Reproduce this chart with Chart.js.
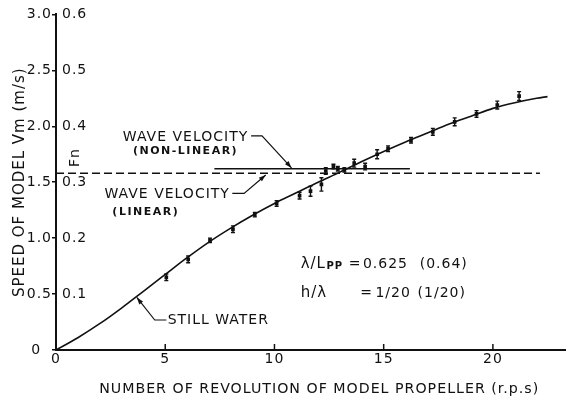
<!DOCTYPE html>
<html>
<head>
<meta charset="utf-8">
<script src="https://cdn.jsdelivr.net/npm/chart.js@4/dist/chart.umd.min.js"></script>
<style>
  html, body { margin: 0; padding: 0; background: #fff; }
  #wrap { width: 569px; height: 402px; }
</style>
</head>
<body>
<div id="wrap"><canvas id="speedChart"></canvas></div>
<script>
// Still water curve: model speed against propeller revolutions
const stillRps = [0, 1, 2, 3, 4, 5, 6, 7, 8, 9, 10, 11, 12, 13, 14, 15, 16, 17, 18, 19, 20, 21, 22, 22.5];
const stillVm = [0, 0.11, 0.235, 0.375, 0.525, 0.675, 0.825, 0.965, 1.09, 1.205, 1.31, 1.405, 1.5, 1.59, 1.685, 1.775, 1.86, 1.94, 2.02, 2.09, 2.16, 2.21, 2.25, 2.265];

// Measured speeds in waves and half height of each error bar
const measRps = [5.05, 6.05, 7.05, 8.1, 9.1, 10.1, 11.15, 11.65, 12.15, 12.35, 12.7, 12.9, 13.2, 13.65, 14.15, 14.7, 15.2, 16.25, 17.25, 18.25, 19.25, 20.2, 21.2];
const measVm = [0.65, 0.81, 0.98, 1.08, 1.21, 1.31, 1.38, 1.42, 1.48, 1.6, 1.64, 1.62, 1.61, 1.67, 1.64, 1.75, 1.8, 1.875, 1.95, 2.04, 2.11, 2.19, 2.27];
const measErr = [0.03, 0.03, 0.02, 0.03, 0.02, 0.025, 0.03, 0.045, 0.06, 0.03, 0.02, 0.02, 0.02, 0.035, 0.03, 0.04, 0.025, 0.025, 0.03, 0.035, 0.03, 0.035, 0.04];

// Wave velocity levels
const waveLinearRps = [0, 22.15];
const waveLinearVm = [1.58, 1.58];
const waveNonLinearRps = [7.25, 16.2];
const waveNonLinearVm = [1.62, 1.62];

// Axis ticks
const rpsTicks = [0, 5, 10, 15, 20];
const vmTicks = [0, 0.5, 1.0, 1.5, 2.0, 2.5, 3.0];
const fnTicks = [0.1, 0.2, 0.3, 0.4, 0.5, 0.6];

const INK = "#111";
const FONT = '"DejaVu Sans", sans-serif';

const toPoints = (xs, ys) => xs.map((x, i) => ({ x: x, y: ys[i] }));

// polyline ending in a filled arrowhead
function leader(ctx, pts) {
  ctx.beginPath();
  ctx.moveTo(pts[0][0], pts[0][1]);
  for (let i = 1; i < pts.length; i++) ctx.lineTo(pts[i][0], pts[i][1]);
  ctx.stroke();
  const [x1, y1] = pts[pts.length - 2];
  const [x2, y2] = pts[pts.length - 1];
  const a = Math.atan2(y2 - y1, x2 - x1);
  const len = 7, half = 2.4;
  const bx = x2 - len * Math.cos(a), by = y2 - len * Math.sin(a);
  ctx.beginPath();
  ctx.moveTo(x2, y2);
  ctx.lineTo(bx + half * Math.sin(a), by - half * Math.cos(a));
  ctx.lineTo(bx - half * Math.sin(a), by + half * Math.cos(a));
  ctx.closePath();
  ctx.fill();
}

const letterSpacing = {
  id: "letterSpacing",
  beforeDraw(chart) {
    chart.ctx.letterSpacing = "1px";
  },
};

// error bars for the measured points
const errorBars = {
  id: "errorBars",
  afterDatasetsDraw(chart) {
    const { ctx, scales } = chart;
    ctx.save();
    ctx.strokeStyle = INK;
    ctx.lineWidth = 1.4;
    measRps.forEach((r, i) => {
      const x = scales.x.getPixelForValue(r);
      const yt = scales.y.getPixelForValue(measVm[i] + measErr[i]);
      const yb = scales.y.getPixelForValue(measVm[i] - measErr[i]);
      ctx.beginPath();
      ctx.moveTo(x, yt); ctx.lineTo(x, yb);
      ctx.moveTo(x - 2, yt); ctx.lineTo(x + 2, yt);
      ctx.moveTo(x - 2, yb); ctx.lineTo(x + 2, yb);
      ctx.stroke();
    });
    ctx.restore();
  },
};

// inward tick marks on the revolution axis, axis title, labels and leaders
const annotations = {
  id: "annotations",
  afterDraw(chart) {
    const { ctx, scales, chartArea } = chart;
    const px = (v) => scales.x.getPixelForValue(v);
    const py = (v) => scales.y.getPixelForValue(v);
    ctx.save();
    ctx.strokeStyle = INK;
    ctx.fillStyle = INK;
    ctx.lineWidth = 1.5;

    rpsTicks.forEach((t) => {
      if (t === 0) return;
      ctx.beginPath();
      ctx.moveTo(px(t), chartArea.bottom);
      ctx.lineTo(px(t), chartArea.bottom - 6);
      ctx.stroke();
    });

    ctx.letterSpacing = "1px";
    ctx.textBaseline = "middle";
    ctx.textAlign = "center";
    ctx.font = "14.2px " + FONT;
    ctx.fillText("NUMBER OF REVOLUTION OF MODEL PROPELLER (r.p.s)", px(12.05), chartArea.bottom + 39);

    // Fn label beside the Froude number ticks
    ctx.save();
    ctx.font = "14px " + FONT;
    ctx.translate(chartArea.left + 19, py(1.72));
    ctx.rotate(-Math.PI / 2);
    ctx.fillText("Fn", 0, 0);
    ctx.restore();

    ctx.lineWidth = 1.2;
    ctx.font = "14px " + FONT;
    ctx.fillText("WAVE VELOCITY", px(5.93), py(1.9));
    ctx.fillText("WAVE VELOCITY", px(5.09), py(1.393));
    ctx.font = "bold 11px " + FONT;
    ctx.letterSpacing = "1.5px";
    ctx.fillText("(NON-LINEAR)", px(5.93), py(1.777));
    ctx.fillText("(LINEAR)", px(4.11), py(1.232));
    ctx.letterSpacing = "1px";

    leader(ctx, [[px(8.93), py(1.915)], [px(9.43), py(1.915)], [px(10.78), py(1.628)]]);
    leader(ctx, [[px(8.07), py(1.40)], [px(8.61), py(1.40)], [px(9.6), py(1.565)]]);

    ctx.textAlign = "left";
    ctx.font = "14px " + FONT;
    ctx.fillText("STILL WATER", px(5.11), py(0.268));
    leader(ctx, [[px(5.05), py(0.268)], [px(4.52), py(0.268)], [px(3.7), py(0.47)]]);

    // wave condition
    ctx.font = "15px " + FONT;
    ctx.fillText("\u03bb/L", px(11.2), py(0.768));
    ctx.fillText("h/\u03bb", px(11.2), py(0.509));
    ctx.font = "bold 10px " + FONT;
    ctx.fillText("PP", px(12.38), py(0.745));
    ctx.font = "14px " + FONT;
    ctx.fillText("=", px(13.4), py(0.768));
    ctx.fillText("0.625", px(14.05), py(0.768));
    ctx.fillText("(0.64)", px(16.65), py(0.768));
    ctx.fillText("=", px(13.93), py(0.509));
    ctx.fillText("1/20", px(14.62), py(0.509));
    ctx.fillText("(1/20)", px(16.55), py(0.509));
    ctx.restore();
  },
};

new Chart(document.getElementById("speedChart"), {
  type: "scatter",
  data: {
    datasets: [
      {
        label: "Still water",
        data: toPoints(stillRps, stillVm),
        yAxisID: "y",
        showLine: true,
        borderColor: INK,
        borderWidth: 1.6,
        pointRadius: 0,
        cubicInterpolationMode: "monotone",
      },
      {
        label: "Measured",
        data: toPoints(measRps, measVm),
        yAxisID: "y",
        showLine: false,
        pointStyle: "rect",
        pointRadius: 2.6,
        backgroundColor: INK,
        borderColor: INK,
        borderWidth: 0,
      },
      {
        label: "Wave velocity (linear)",
        data: toPoints(waveLinearRps, waveLinearVm),
        yAxisID: "y",
        showLine: true,
        borderColor: INK,
        borderWidth: 1.5,
        borderDash: [8, 4],
        pointRadius: 0,
      },
      {
        label: "Wave velocity (non-linear)",
        data: toPoints(waveNonLinearRps, waveNonLinearVm),
        yAxisID: "y",
        showLine: true,
        borderColor: INK,
        borderWidth: 1.5,
        pointRadius: 0,
      },
    ],
  },
  options: {
    responsive: true,
    maintainAspectRatio: false,
    animation: false,
    layout: { padding: { top: 14, right: 0, left: 0, bottom: 0 } },
    plugins: {
      legend: { display: false },
      tooltip: { enabled: false },
    },
    scales: {
      x: {
        type: "linear",
        min: 0,
        max: 23.3,
        afterBuildTicks: (s) => { s.ticks = rpsTicks.map((v) => ({ value: v })); },
        afterFit: (s) => { s.height = 52; },
        border: { display: true, color: INK, width: 2 },
        grid: { display: false, drawTicks: false },
        ticks: {
          color: INK,
          font: { family: FONT, size: 14 },
          padding: 1,
          maxRotation: 0,
        },
      },
      yFn: {
        type: "linear",
        position: "left",
        weight: 0,
        min: 0,
        max: 0.6,
        afterBuildTicks: (s) => { s.ticks = fnTicks.map((v) => ({ value: v })); },
        afterFit: (s) => { s.width = 0; },
        border: { display: false },
        grid: { display: false, drawTicks: false },
        ticks: {
          mirror: true,
          padding: 6,
          color: INK,
          font: { family: FONT, size: 14 },
          callback: (v) => v.toFixed(1),
        },
      },
      y: {
        type: "linear",
        position: "left",
        weight: 1,
        min: 0,
        max: 3,
        afterBuildTicks: (s) => { s.ticks = vmTicks.map((v) => ({ value: v })); },
        afterFit: (s) => { s.width = 56; },
        border: { display: true, color: INK, width: 2 },
        grid: { drawOnChartArea: false, drawTicks: true, tickLength: 4, color: INK, lineWidth: 1.5 },
        ticks: {
          padding: 0,
          color: INK,
          font: { family: FONT, size: 14 },
          callback: (v) => (v === 0 ? "0  " : v.toFixed(1)),
        },
        title: {
          display: true,
          text: "SPEED OF MODEL Vm (m/s)",
          color: INK,
          font: { family: FONT, size: 15 },
          padding: { top: 11, bottom: 0 },
        },
      },
    },
  },
  plugins: [letterSpacing, errorBars, annotations],
});
</script>
</body>
</html>
